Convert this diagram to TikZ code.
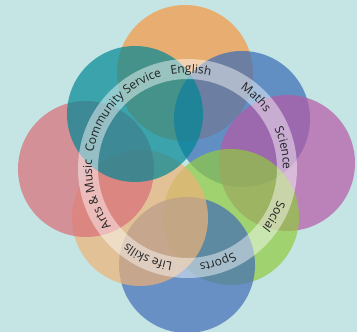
\documentclass[tikz,border=0pt]{standalone}
\usepackage{fontspec}
\setmainfont{Open Sans}
\usepackage{tkz-euclide}
\usetikzlibrary{decorations.text}

\definecolor{bgteal}{HTML}{C4E5E3}
\definecolor{discN}{HTML}{F89742}
\definecolor{discNE}{HTML}{386BB7}
\definecolor{discE}{HTML}{B658A6}
\definecolor{discSE}{HTML}{91CA40}
\definecolor{discS}{HTML}{426CB7}
\definecolor{discSW}{HTML}{EFB278}
\definecolor{discW}{HTML}{DA6D78}
\definecolor{discNW}{HTML}{008796}
\definecolor{labelgray}{HTML}{222222}

\newcommand{\ringfont}{\fontsize{12}{14}\selectfont\color{labelgray}}
\newcommand{\ringlabel}[2]{%
  \path[decorate, decoration={text along path, text align=center, text={|\ringfont|#2}}]
    (O) ++(#1+45:95.5pt) arc[start angle=#1+45, end angle=#1-45, radius=95.5pt];}

\begin{document}
\begin{tikzpicture}[x=1pt, y=1pt, disc/.style={fill=#1, fill opacity=0.7}]
            \useasboundingbox (0,0) rectangle (357,332);
            \fill[bgteal] (0,0) rectangle (357,332);

            \tkzDefPoint(187.5,163.5){O}
            \tkzDefPoint(185,259){N}
            \tkzDefPoint(242,213){NE}
            \tkzDefPoint(287,169){E}
            \tkzDefPoint(231,115){SE}
            \tkzDefPoint(187,67){S}
            \tkzDefPoint(140,114){SW}
            \tkzDefPoint(86,163){W}
            \tkzDefPoint(135,218){NW}

            \fill[disc=discN] (N) circle[radius=68pt];
            \fill[disc=discNE] (NE) circle[radius=68pt];
            \fill[disc=discE] (E) circle[radius=68pt];
            \fill[disc=discSE] (SE) circle[radius=68pt];
            \fill[disc=discS] (S) circle[radius=68pt];
            \fill[disc=discSW] (SW) circle[radius=68pt];
            \fill[disc=discW] (W) circle[radius=68pt];
            \fill[disc=discNW] (NW) circle[radius=68pt];

            \fill[white, fill opacity=0.45, even odd rule]
              (O) circle[radius=109.5pt] (O) circle[radius=89.5pt];

            \ringlabel{88}{English}
            \ringlabel{46}{Maths}
            \ringlabel{12}{Science}
            \ringlabel{-29}{Social}
            \ringlabel{-72}{Sports}
            \ringlabel{-114}{Life skills}
            \ringlabel{-164}{Arts {\&} Music}
            \ringlabel{138}{Community Service}
        \end{tikzpicture}
\end{document}
